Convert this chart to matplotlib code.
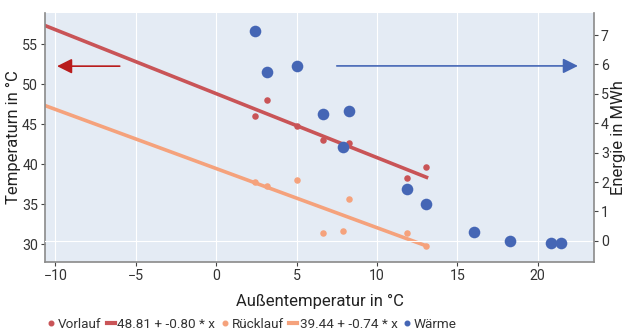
import numpy as np
import matplotlib.pyplot as plt
from matplotlib.lines import Line2D

plt.rcParams['font.family'] = ['Roboto', 'DejaVu Sans']

# Außentemperatur (°C) of each measurement
aussen = [2.39, 3.15, 5.02, 6.62, 7.88, 8.23, 11.84, 13.08]
vorlauf = [46.0, 48.0, 44.8, 43.0, 42.2, 42.6, 38.3, 39.6]
ruecklauf = [37.8, 37.25, 38.05, 31.4, 31.65, 35.6, 31.4, 29.8]

# Wärme (MWh)
waerme_x = [2.39, 3.15, 5.02, 6.62, 7.88, 8.23, 11.84, 13.08, 16.03, 18.28, 20.8, 21.42]
waerme_y = [7.13, 5.73, 5.95, 4.31, 3.2, 4.41, 1.76, 1.26, 0.30, 0.01, -0.08, -0.08]

# regression coefficients (intercept, slope)
vor_fit = (48.81, -0.80)
rueck_fit = (39.44, -0.74)

xlim = (-10.65, 23.5)
c_vor = '#c95457'
c_rueck = '#f5a27c'
c_waerme = '#4566b5'
bg = '#e4ebf4'
spine = '#8a8a8a'

fig = plt.figure(figsize=(6.25, 3.29), dpi=100)
ax = fig.add_axes([45 / 625, 1 - 262 / 329, 549 / 625, 249 / 329])
ax2 = ax.twinx()

ax.set_facecolor(bg)
ax.set_xlim(*xlim)
ax.set_ylim(27.75, 58.9)
ax2.set_ylim(-0.72, 7.75)

for x in range(-10, 25, 5):
    ax.axvline(x, color='white', lw=0.8, zorder=0)
ax2.axhline(0, color='white', lw=0.8, zorder=0)

xs = np.array([xlim[0], max(aussen)])
ax.plot(xs, vor_fit[0] + vor_fit[1] * xs, color=c_vor, lw=2.6, zorder=2)
ax.plot(xs, rueck_fit[0] + rueck_fit[1] * xs, color=c_rueck, lw=2.6, zorder=2)
ax.scatter(aussen, vorlauf, s=22, color=c_vor, zorder=3, lw=0)
ax.scatter(aussen, ruecklauf, s=22, color=c_rueck, zorder=3, lw=0)
ax2.scatter(waerme_x, waerme_y, s=70, color=c_waerme, zorder=3, lw=0)

# arrows marking which axis belongs to which series
ax.annotate('', xy=(-9.9, 52.25), xytext=(-6.0, 52.25),
            arrowprops=dict(arrowstyle='-|>,head_length=0.9,head_width=0.45',
                            color='#b91c1c', lw=1.2, shrinkA=0, shrinkB=0))
ax2.annotate('', xy=(22.5, 5.95), xytext=(7.5, 5.95),
             arrowprops=dict(arrowstyle='-|>,head_length=0.9,head_width=0.45',
                             color=c_waerme, lw=1.2, shrinkA=0, shrinkB=0))

ax.set_xticks(range(-10, 25, 5))
ax.set_xticklabels(['\u221210', '\u22125', '0', '5', '10', '15', '20'])
ax.set_yticks(range(30, 60, 5))
ax2.set_yticks(range(0, 8))

for a in (ax, ax2):
    a.spines['top'].set_visible(False)
    for s in ('left', 'right', 'bottom'):
        a.spines[s].set_color(spine)
        a.spines[s].set_linewidth(1.2)
    a.tick_params(colors='#444444', labelcolor='#333333', labelsize=10.2,
                  length=3, width=0.8, pad=2)
ax.spines['right'].set_visible(False)
ax2.spines['left'].set_visible(False)
ax2.spines['bottom'].set_visible(False)

ax.set_xlabel('Außentemperatur in °C', fontsize=12, color='#222222', labelpad=8)
ax.set_ylabel('Temperaturn in °C', fontsize=12, color='#222222', labelpad=1)
ax2.set_ylabel('Energie in MWh', fontsize=12, color='#222222', labelpad=1.5, rotation=90)

handles = [
    Line2D([], [], ls='none', marker='o', ms=3.3, color=c_vor),
    Line2D([], [], color=c_vor, lw=3),
    Line2D([], [], ls='none', marker='o', ms=3.3, color=c_rueck),
    Line2D([], [], color=c_rueck, lw=3),
    Line2D([], [], ls='none', marker='o', ms=3.3, color=c_waerme),
]
labels = ['Vorlauf',
          f'{vor_fit[0]:.2f} + {vor_fit[1]:.2f} * x',
          'Rücklauf',
          f'{rueck_fit[0]:.2f} + {rueck_fit[1]:.2f} * x',
          'Wärme']
fig.legend(handles, labels, loc='center left', bbox_to_anchor=(47 / 625, 1 - 324 / 329),
           ncol=5, frameon=False, fontsize=9.7, handlelength=0.6, handletextpad=0.2,
           columnspacing=0.4, borderpad=0, borderaxespad=0, labelcolor='#333333')

fig.savefig('out.png', dpi=100)
